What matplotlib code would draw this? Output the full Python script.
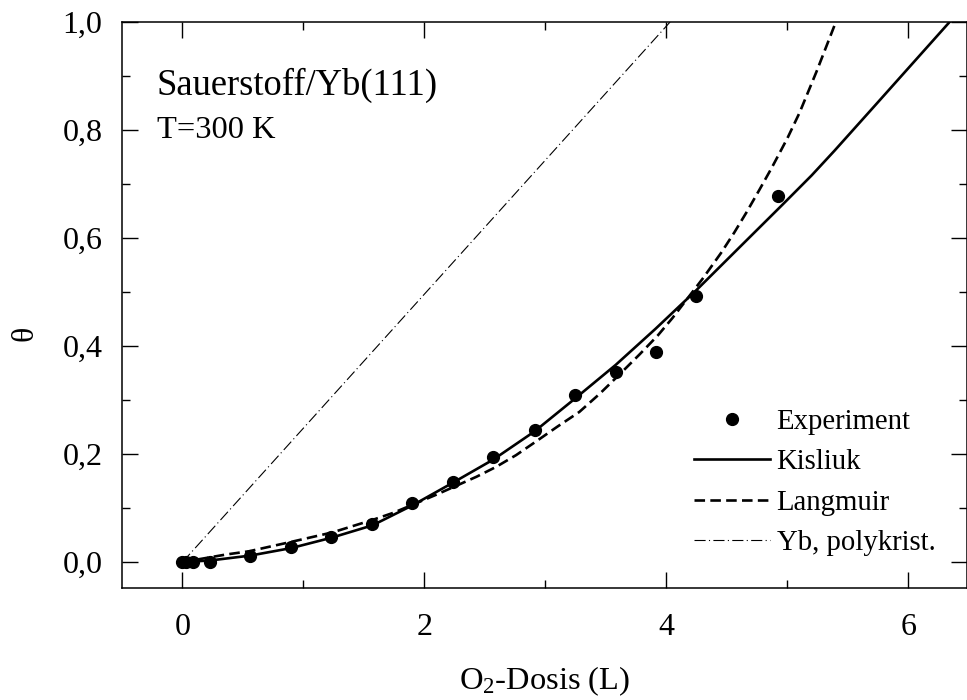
import matplotlib
matplotlib.use("Agg")
import matplotlib.pyplot as plt
from matplotlib.ticker import MultipleLocator, FuncFormatter

plt.rcParams['font.family'] = ['Liberation Serif', 'DejaVu Serif']
plt.rcParams['mathtext.fontset'] = 'custom'
plt.rcParams['mathtext.rm'] = 'Liberation Serif'
plt.rcParams['mathtext.it'] = 'Liberation Serif:italic'

# experiment points
exp_x = [0.0, 0.03, 0.09, 0.23, 0.56, 0.90, 1.23, 1.565, 1.90, 2.235, 2.57, 2.91, 3.24, 3.58, 3.91, 4.245, 4.92]
exp_y = [0.0, 0.0, 0.0, 0.0, 0.012, 0.027, 0.047, 0.070, 0.110, 0.149, 0.195, 0.244, 0.310, 0.352, 0.389, 0.493, 0.678]

# Kisliuk fit
kis_x = [0.0, 0.23, 0.56, 0.90, 1.23, 1.57, 1.90, 2.235, 2.57, 2.91, 3.24, 3.58, 3.91, 4.245, 4.6, 4.96, 5.2, 5.39, 5.73, 6.34]
kis_y = [0.0, 0.003, 0.012, 0.026, 0.045, 0.068, 0.105, 0.147, 0.190, 0.242, 0.302, 0.365, 0.432, 0.503, 0.582, 0.662, 0.716, 0.762, 0.847, 1.0]

# Langmuir fit
lang_x = [0.0, 0.36, 0.55, 0.91, 1.24, 1.57, 1.74, 1.90, 2.10, 2.43, 2.59, 2.757, 2.92, 3.10, 3.28, 3.45,
          3.61, 3.78, 3.93, 4.05, 4.30, 4.45, 4.56, 4.66, 4.77, 4.87, 5.0, 5.10, 5.24, 5.40]
lang_y = [0.0, 0.014, 0.020, 0.038, 0.055, 0.078, 0.091, 0.106, 0.125, 0.158, 0.176, 0.198, 0.223, 0.251, 0.278, 0.312,
          0.347, 0.385, 0.420, 0.452, 0.525, 0.572, 0.610, 0.647, 0.690, 0.730, 0.785, 0.832, 0.908, 1.0]

# Yb polycrystalline
poly_x = [0.0, 4.03]
poly_y = [0.0, 1.0]

fig = plt.figure(figsize=(9.67, 7.0), dpi=100)
ax = fig.add_axes([122/967, 1-588/700, 1-122/967-0.0005, (588-22)/700])

ax.plot(poly_x, poly_y, color='black', lw=0.8, ls=(0, (10, 3, 1, 3)), label='Yb, polykrist.')
ax.plot(lang_x, lang_y, color='black', lw=1.9, ls=(0, (4, 2)), label='Langmuir')
ax.plot(kis_x, kis_y, color='black', lw=1.9, label='Kisliuk')
ax.plot(exp_x, exp_y, 'o', color='black', ms=8.5, label='Experiment', zorder=5)

ax.set_xlim(-0.5, 6.48)
ax.set_ylim(-0.048, 1.0)

ax.xaxis.set_major_locator(MultipleLocator(2))
ax.xaxis.set_minor_locator(MultipleLocator(1))
ax.yaxis.set_major_locator(MultipleLocator(0.2))
ax.yaxis.set_minor_locator(MultipleLocator(0.1))
ax.yaxis.set_major_formatter(FuncFormatter(lambda v, p: ('%.1f' % v).replace('.', ',')))

ax.tick_params(which='both', direction='in', top=True, right=True, labelsize=23, width=1.0)
ax.tick_params(which='major', length=11.5)
ax.tick_params(which='minor', length=5.8)
ax.tick_params(axis='x', pad=18)
ax.tick_params(axis='y', pad=14)
for s in ax.spines.values():
    s.set_linewidth(1.1)

ax.set_xlabel(r'$\mathrm{O}_2$-Dosis (L)', fontsize=23.4)
ax.xaxis.set_label_coords(0.5, -0.135)
ax.set_ylabel('θ', fontsize=23)
ax.yaxis.set_label_coords(-0.098, 0.45)

ax.text(-0.217, 0.865, 'Sauerstoff/Yb(111)', fontsize=26.3, va='baseline')
ax.text(-0.207, 0.785, 'T=300 K', fontsize=23.4, va='baseline')

h, l = ax.get_legend_handles_labels()
order = [3, 2, 1, 0]
ax.legend([h[i] for i in order], [l[i] for i in order], loc='center left',
          bbox_to_anchor=(694/967, 1-482.5/700), bbox_transform=fig.transFigure,
          frameon=False, fontsize=20.7, handlelength=2.64, handletextpad=0.23,
          labelspacing=0.5, borderpad=0, borderaxespad=0, numpoints=1)

fig.savefig('out.png', dpi=100)
